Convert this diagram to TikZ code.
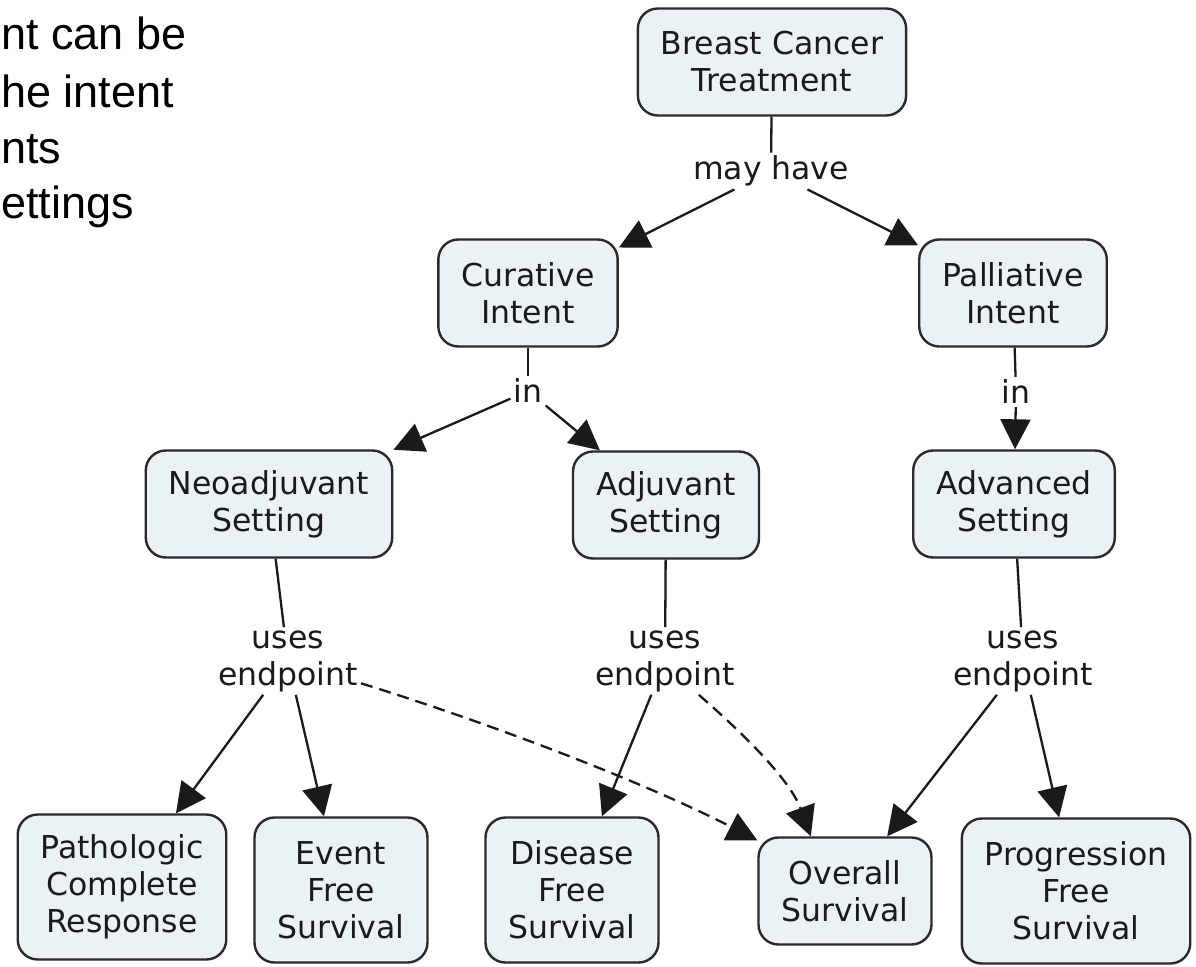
\documentclass[tikz,border=0pt]{standalone}
\usepackage{fontspec}
\newfontfamily\cmapfont{DejaVu Sans}
\newfontfamily\slidefont{Liberation Sans}
\usetikzlibrary{arrows.meta}
\definecolor{boxfill}{HTML}{EBF2F5}
\definecolor{boxline}{HTML}{2A2A2A}
\definecolor{inkc}{HTML}{1A1A1A}
\begin{document}
\begin{tikzpicture}[x=1pt,y=-1pt,
  concept/.style={draw=boxline, line width=2.4pt, fill=boxfill, rounded corners=20pt,
    align=center, text=inkc, font=\cmapfont\fontsize{31.5}{37}\selectfont,
    inner xsep=23pt, inner ysep=6pt, minimum height=107pt},
  tall/.style={minimum height=145pt},
  linkph/.style={align=center, text=inkc, font=\cmapfont\fontsize{31.5}{37}\selectfont, inner sep=3pt},
  slidetext/.style={anchor=base west, inner sep=0pt, text=black, font=\slidefont\fontsize{45}{54}\selectfont},
  conn/.style={draw=inkc, line width=2.3pt},
  arr/.style={conn, -{Triangle[length=30pt,width=30pt]}},
  darr/.style={arr, dash pattern=on 12pt off 7pt},
]
\useasboundingbox (0,0) rectangle (1196,966);
\fill[white] (0,0) rectangle (1196,966);

% slide text at the left
\node[slidetext] (t1) at (1,50) {nt can be};
\node[slidetext] (t2) at (1,107) {he intent};
\node[slidetext] (t3) at (1,163) {nts};
\node[slidetext] (t4) at (1,218) {ettings};

% concepts
\node[concept] (bct) at (772,62) {Breast Cancer\\Treatment};
\node[concept] (cur) at (528,293) {Curative\\Intent};
\node[concept] (pal) at (1013,293) {Palliative\\Intent};
\node[concept] (neo) at (269,504) {Neoadjuvant\\Setting};
\node[concept] (adj) at (666,505) {Adjuvant\\Setting};
\node[concept] (adv) at (1014,504) {Advanced\\Setting};
\node[concept,tall] (pcr) at (122,887) {Pathologic\\Complete\\Response};
\node[concept,tall] (efs) at (341,890) {Event\\Free\\Survival};
\node[concept,tall] (dfs) at (572,890) {Disease\\Free\\Survival};
\node[concept] (os) at (845,891) {Overall\\Survival};
\node[concept,tall] (pfs) at (1076,891) {Progression\\Free\\Survival};

% linking phrases
\node[linkph] (may) at (771,171) {may have};
\node[linkph] (inl) at (528,391) {in};
\node[linkph] (inr) at (1016,392) {in};
\node[linkph] (usl) at (288,661) {uses\\endpoint};
\node[linkph] (usc) at (665,661) {uses\\endpoint};
\node[linkph] (usr) at (1023,661) {uses\\endpoint};

% connectors
\draw[conn] (bct) -- (may);
\draw[arr] (may) -- (cur);
\draw[arr] (may) -- (pal);

\draw[conn] (cur) -- (inl);
\draw[arr] (inl) -- (neo);
\draw[arr] (inl) -- (adj);

\draw[conn] (pal) -- (inr);
\draw[arr] (inr) -- (adv);

\draw[conn] (neo) -- (usl);
\draw[arr] (usl) -- (pcr);
\draw[arr] (usl) -- (efs);
\draw[darr] (usl.-17) .. controls (480,720) and (640,780) .. (os.150);

\draw[conn] (adj) -- (usc);
\draw[arr] (usc) -- (dfs);
\draw[darr] (usc.-45) .. controls (745,735) and (790,780) .. (os.122);

\draw[conn] (adv) -- (usr);
\draw[arr] (usr) -- (os);
\draw[arr] (usr) -- (pfs);
\end{tikzpicture}
\end{document}
